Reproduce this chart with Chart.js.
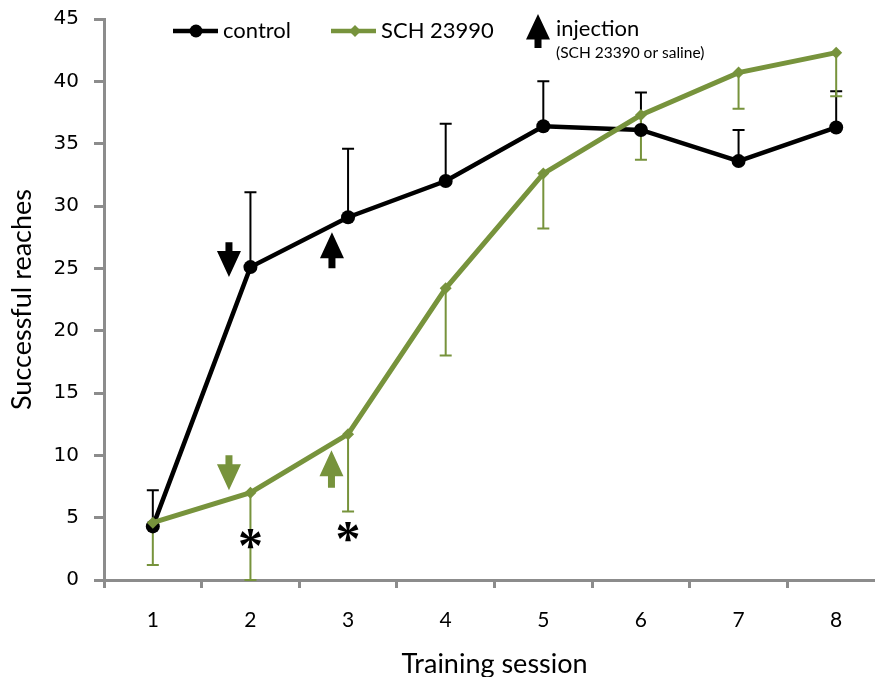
<!DOCTYPE html>
<html>
<head>
<meta charset="utf-8">
<script src="https://cdn.jsdelivr.net/npm/chart.js@4"></script>
<style>
  html, body { margin: 0; padding: 0; background: #fff; overflow: hidden; }
  #wrap { position: absolute; left: 0; top: 0; }
</style>
</head>
<body>
<div id="wrap"><canvas id="reachChart" width="892" height="690"></canvas></div>
<script>
// ===== DATA =====
const sessions = ['1', '2', '3', '4', '5', '6', '7', '8'];
const controlMean = [4.3, 25.1, 29.1, 32.0, 36.4, 36.1, 33.6, 36.3];
const controlErr = [2.9, 6.0, 5.5, 4.6, 3.6, 3.0, 2.5, 2.9];   // drawn upward
const schMean = [4.6, 7.0, 11.7, 23.4, 32.6, 37.3, 40.7, 42.3];
const schErr = [3.4, 7.0, 6.2, 5.4, 4.4, 3.6, 2.9, 3.5];        // drawn downward
const yTicks = [0, 5, 10, 15, 20, 25, 30, 35, 40, 45];

// injection arrows: session index, shift (fraction of a category), tail and tip (in reaches)
const arrowSessions = [1, 2, 1, 2];
const arrowShift = [-0.22, -0.165, -0.22, -0.17];
const arrowTail = [27.1, 25.0, 10.0, 7.4];
const arrowTip = [24.3, 27.9, 7.2, 10.4];
const arrowIsControl = [true, true, false, false];
// significance stars
const starSessions = [1, 2];
const starValues = [3.3, 3.85];

const BLACK = '#000000';
const GREEN = '#77933c';
const AXIS = '#8c8c8c';
const SANS = 'Lato, "Open Sans", sans-serif';

function drawArrow(ctx, x, yTail, yTip, color) {
    const dir = yTip > yTail ? 1 : -1;
    const len = Math.abs(yTip - yTail);
    const head = Math.min(26, len * 0.75);
    const yNeck = yTip - dir * head;
    ctx.save();
    ctx.fillStyle = color;
    ctx.beginPath();
    ctx.moveTo(x - 3.5, yTail);
    ctx.lineTo(x + 3.5, yTail);
    ctx.lineTo(x + 3.5, yNeck);
    ctx.lineTo(x + 12, yNeck);
    ctx.lineTo(x, yTip);
    ctx.lineTo(x - 12, yNeck);
    ctx.lineTo(x - 3.5, yNeck);
    ctx.closePath();
    ctx.fill();
    ctx.restore();
}

// ===== ERROR BARS + ANNOTATIONS =====
const extras = {
    id: 'extras',
    beforeDatasetsDraw(chart) {
        const {ctx, scales: {x, y}} = chart;
        ctx.save();
        ctx.lineWidth = 2;
        const bars = [
            {mean: controlMean, err: controlErr, dir: 1, color: BLACK},
            {mean: schMean, err: schErr, dir: -1, color: GREEN}
        ];
        bars.forEach(b => {
            ctx.strokeStyle = b.color;
            b.mean.forEach((m, i) => {
                const px = x.getPixelForValue(i);
                const y0 = y.getPixelForValue(m);
                const y1 = y.getPixelForValue(m + b.dir * b.err[i]);
                ctx.beginPath();
                ctx.moveTo(px, y0);
                ctx.lineTo(px, y1);
                ctx.moveTo(px - 6, y1);
                ctx.lineTo(px + 6, y1);
                ctx.stroke();
            });
        });
        ctx.restore();
    },
    afterDraw(chart) {
        const {ctx, scales: {x, y}} = chart;
        const step = x.getPixelForValue(1) - x.getPixelForValue(0);
        // arrows
        arrowSessions.forEach((s, i) => {
            const px = x.getPixelForValue(s) + arrowShift[i] * step;
            drawArrow(ctx, px, y.getPixelForValue(arrowTail[i]), y.getPixelForValue(arrowTip[i]),
                arrowIsControl[i] ? BLACK : GREEN);
        });
        // stars, centred on their glyph box
        ctx.save();
        ctx.fillStyle = BLACK;
        ctx.font = 'bold 50px "Liberation Serif", serif';
        ctx.textAlign = 'center';
        ctx.textBaseline = 'alphabetic';
        const m = ctx.measureText('*');
        const mid = (m.actualBoundingBoxAscent - m.actualBoundingBoxDescent) / 2;
        starSessions.forEach((s, i) => {
            ctx.fillText('*', x.getPixelForValue(s), y.getPixelForValue(starValues[i]) + mid);
        });
        ctx.restore();

        // legend
        ctx.save();
        ctx.lineWidth = 4.5;
        ctx.strokeStyle = BLACK;
        ctx.beginPath(); ctx.moveTo(173, 31); ctx.lineTo(218, 31); ctx.stroke();
        ctx.fillStyle = BLACK;
        ctx.beginPath(); ctx.arc(196, 31, 6.5, 0, Math.PI * 2); ctx.fill();
        ctx.strokeStyle = GREEN;
        ctx.beginPath(); ctx.moveTo(331, 31); ctx.lineTo(376, 31); ctx.stroke();
        ctx.fillStyle = GREEN;
        ctx.beginPath();
        ctx.moveTo(355, 25); ctx.lineTo(361, 31); ctx.lineTo(355, 37); ctx.lineTo(349, 31);
        ctx.closePath(); ctx.fill();
        drawArrow(ctx, 538, 48, 14, BLACK);
        ctx.fillStyle = BLACK;
        ctx.textBaseline = 'middle';
        ctx.font = '22px ' + SANS;
        ctx.fillText('control', 223, 31);
        ctx.fillText('SCH 23990', 381, 31);
        ctx.fillText('injection', 556, 29);
        ctx.font = '15.5px ' + SANS;
        ctx.fillText('(SCH 23390 or saline)', 556, 53);
        ctx.restore();
    }
};

// ===== CHART =====
new Chart(document.getElementById('reachChart'), {
    type: 'line',
    data: {
        labels: sessions,
        datasets: [
            {
                label: 'SCH 23990',
                data: schMean,
                borderColor: GREEN,
                backgroundColor: GREEN,
                borderWidth: 5,
                pointStyle: 'rectRot',
                pointRadius: 6,
                pointBorderWidth: 0,
                tension: 0,
                order: 0
            },
            {
                label: 'control',
                data: controlMean,
                borderColor: BLACK,
                backgroundColor: BLACK,
                borderWidth: 4.5,
                pointStyle: 'circle',
                pointRadius: 7,
                pointBorderWidth: 0,
                tension: 0,
                order: 1
            }
        ]
    },
    options: {
        responsive: false,
        animation: false,
        layout: { padding: { top: 19, right: 2, left: 0, bottom: 0 } },
        plugins: { legend: { display: false }, tooltip: { enabled: false } },
        scales: {
            x: {
                offset: true,
                afterFit: s => { s.height = 110; },
                grid: { offset: true, drawOnChartArea: false, tickLength: 8, color: AXIS, lineWidth: 3 },
                border: { color: AXIS, width: 3 },
                ticks: { color: '#000', padding: 20, font: { family: SANS, size: 21 } },
                title: {
                    display: true, text: 'Training session', color: '#000',
                    font: { family: SANS, size: 27 }, padding: { top: 0, bottom: 10 }
                }
            },
            y: {
                min: 0, max: 45,
                afterFit: s => { s.width = 104; s.paddingTop = 0; s.paddingBottom = 0; },
                afterBuildTicks: s => { s.ticks = yTicks.map(v => ({ value: v })); },
                grid: { drawOnChartArea: false, tickLength: 10, color: AXIS, lineWidth: 3 },
                border: { color: AXIS, width: 3 },
                ticks: { color: '#000', padding: 15, font: { family: '"DejaVu Sans", sans-serif', size: 20 } },
                title: {
                    display: true, text: 'Successful reaches', color: '#000',
                    font: { family: SANS, size: 27 }, padding: { top: 6, bottom: 0 }
                }
            }
        }
    },
    plugins: [extras]
});
</script>
</body>
</html>
